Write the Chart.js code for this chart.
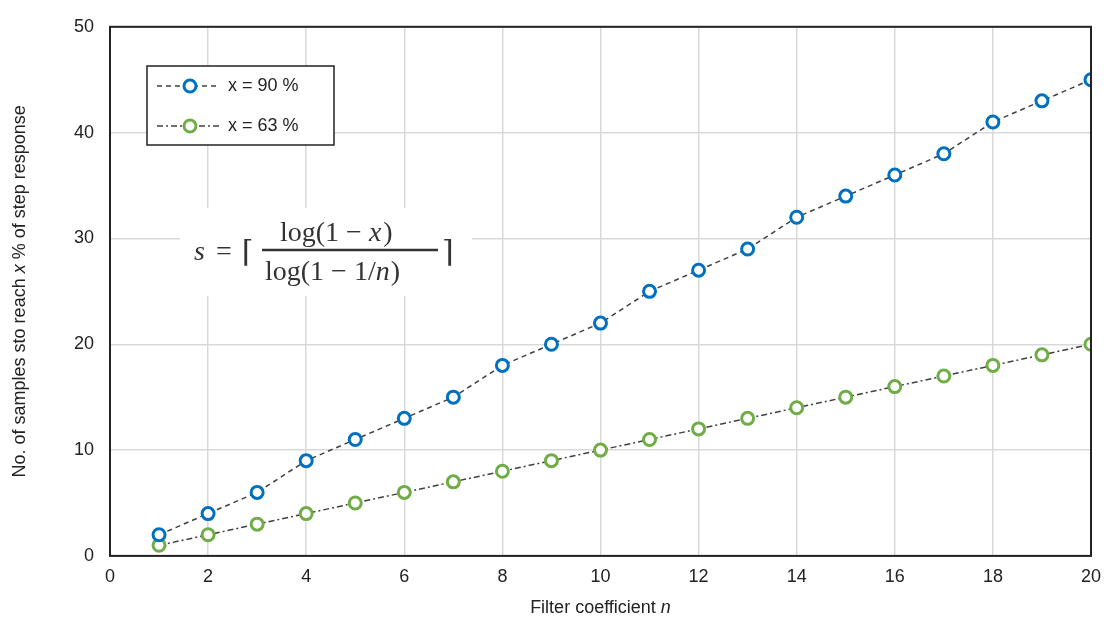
<!DOCTYPE html>
<html>
<head>
<meta charset="utf-8">
<script src="https://cdn.jsdelivr.net/npm/chart.js@4"></script>
<style>
  body { margin: 0; background: #fff; }
  #box { width: 1111px; height: 621px; }
</style>
</head>
<body>
<div id="box"><canvas id="graph"></canvas></div>
<script>
"use strict";
// values
var nValues = [1, 2, 3, 4, 5, 6, 7, 8, 9, 10, 11, 12, 13, 14, 15, 16, 17, 18, 19, 20];
var s90 = [2, 4, 6, 9, 11, 13, 15, 18, 20, 22, 25, 27, 29, 32, 34, 36, 38, 41, 43, 45];
var s63 = [1, 2, 3, 4, 5, 6, 7, 8, 9, 10, 11, 12, 13, 14, 15, 16, 17, 18, 19, 20];
var seriesNames = ["x = 90 %", "x = 63 %"];
var blue = "#0070c0";
var green = "#70ad47";
var FONT = "'Liberation Sans', Arial, sans-serif";

function pts(xs, ys) {
  return xs.map(function (x, i) { return { x: x, y: ys[i] }; });
}

// draw a run of text pieces, some italic
function drawRuns(ctx, runs, x, y, size, align) {
  var total = 0;
  runs.forEach(function (r) {
    ctx.font = (r.it ? "italic " : "") + size + "px " + FONT;
    total += ctx.measureText(r.t).width;
  });
  var cx = align == "center" ? x - total / 2 : x;
  runs.forEach(function (r) {
    ctx.font = (r.it ? "italic " : "") + size + "px " + FONT;
    ctx.fillText(r.t, cx, y);
    cx += ctx.measureText(r.t).width;
  });
}

var extras = {
  id: "extras",
  afterDraw: function (chart) {
    var ctx = chart.ctx;
    var a = chart.chartArea;
    ctx.save();
    // frame
    ctx.strokeStyle = "#222";
    ctx.lineWidth = 2;
    ctx.strokeRect(a.left, a.top, a.right - a.left, a.bottom - a.top);

    // axis titles
    ctx.fillStyle = "#222";
    ctx.textBaseline = "middle";
    ctx.textAlign = "left";
    drawRuns(ctx, [{ t: "Filter coefficient " }, { t: "n", it: true }], (a.left + a.right) / 2, 608, 18, "center");
    ctx.save();
    ctx.translate(20, (a.top + a.bottom) / 2);
    ctx.rotate(-Math.PI / 2);
    drawRuns(ctx, [{ t: "No. of samples sto reach " }, { t: "x", it: true }, { t: " % of step response" }], 0, 0, 18, "center");
    ctx.restore();

    // legend
    var lx = 147, ly = 66, lw = 187, lh = 79;
    ctx.fillStyle = "#fff";
    ctx.fillRect(lx, ly, lw, lh);
    ctx.strokeStyle = "#222";
    ctx.lineWidth = 1.5;
    ctx.strokeRect(lx, ly, lw, lh);
    chart.data.datasets.forEach(function (ds, i) {
      var yy = ly + 20 + i * 40;
      ctx.strokeStyle = ds.borderColor;
      ctx.lineWidth = ds.borderWidth;
      ctx.setLineDash(ds.borderDash);
      ctx.beginPath();
      ctx.moveTo(lx + 10, yy);
      ctx.lineTo(lx + 72, yy);
      ctx.stroke();
      ctx.setLineDash([]);
      ctx.beginPath();
      ctx.arc(lx + 43, yy, 6, 0, 2 * Math.PI);
      ctx.fillStyle = "#fff";
      ctx.fill();
      ctx.strokeStyle = ds.pointBorderColor;
      ctx.lineWidth = 3;
      ctx.stroke();
      ctx.fillStyle = "#222";
      ctx.font = "18px " + FONT;
      ctx.textAlign = "left";
      ctx.fillText(ds.label, lx + 81, yy);
    });

    // formula
    var fx = 190, fy = 250;
    ctx.fillStyle = "#fff";
    ctx.fillRect(180, 208, 292, 88);
    ctx.fillStyle = "#333";
    var serif = "'DejaVu Serif', 'Liberation Serif', serif";
    var rom = "28px 'Liberation Serif', serif";
    var ita = "italic 28px 'Liberation Serif', serif";
    ctx.textBaseline = "alphabetic";
    ctx.font = ita;
    ctx.fillText("s", fx + 4, fy + 10);
    ctx.font = rom;
    ctx.fillText("=", fx + 26, fy + 10);
    ctx.font = "30px " + serif;
    ctx.fillText("\u2308", fx + 52, fy + 12);
    ctx.lineWidth = 2.4;
    ctx.strokeStyle = "#333";
    ctx.beginPath();
    ctx.moveTo(fx + 72, fy);
    ctx.lineTo(fx + 248, fy);
    ctx.stroke();
    ctx.font = rom;
    ctx.textAlign = "left";
    ctx.fillText("log(1 \u2212 ", fx + 90, fy - 9);
    var w1 = ctx.measureText("log(1 \u2212 ").width;
    ctx.font = ita;
    ctx.fillText("x", fx + 90 + w1, fy - 9);
    var w2 = ctx.measureText("x").width;
    ctx.font = rom;
    ctx.fillText(")", fx + 90 + w1 + w2 + 2, fy - 9);
    ctx.fillText("log(1 \u2212 1/", fx + 75, fy + 30);
    var w3 = ctx.measureText("log(1 \u2212 1/").width;
    ctx.font = ita;
    ctx.fillText("n", fx + 75 + w3, fy + 30);
    var w4 = ctx.measureText("n").width;
    ctx.font = rom;
    ctx.fillText(")", fx + 75 + w3 + w4 + 1, fy + 30);
    ctx.font = "30px " + serif;
    ctx.fillText("\u2309", fx + 252, fy + 12);
    ctx.restore();
  }
};

new Chart(document.getElementById("graph"), {
  type: "line",
  data: {
    datasets: [
      {
        label: seriesNames[0],
        data: pts(nValues, s90),
        borderColor: "#404040",
        borderWidth: 1.5,
        borderDash: [5, 4],
        pointBorderColor: blue,
        pointBackgroundColor: "#fff",
        pointBorderWidth: 3,
        pointRadius: 6,
      },
      {
        label: seriesNames[1],
        data: pts(nValues, s63),
        borderColor: "#404040",
        borderWidth: 1.5,
        borderDash: [6, 3, 2, 3],
        pointBorderColor: green,
        pointBackgroundColor: "#fff",
        pointBorderWidth: 3,
        pointRadius: 6,
      },
    ],
  },
  options: {
    responsive: true,
    maintainAspectRatio: false,
    animation: false,
    layout: { autoPadding: false, padding: { left: 57, right: 6, top: 17, bottom: 23.5 } },
    plugins: { legend: { display: false }, tooltip: { enabled: false } },
    scales: {
      x: {
        type: "linear",
        min: 0,
        max: 20,
        ticks: { stepSize: 2, color: "#222", font: { family: FONT, size: 18 }, padding: 10, maxRotation: 0 },
        grid: { color: "#d9d9d9", lineWidth: 1.5, drawTicks: false },
        border: { display: false },
      },
      y: {
        min: 0,
        max: 50,
        ticks: { stepSize: 10, color: "#222", font: { family: FONT, size: 18 }, padding: 16 },
        grid: { color: "#d9d9d9", lineWidth: 1.5, drawTicks: false },
        border: { display: false },
        afterFit: function (scale) { scale.width = 53; },
      },
    },
  },
  plugins: [extras],
});
</script>
</body>
</html>
